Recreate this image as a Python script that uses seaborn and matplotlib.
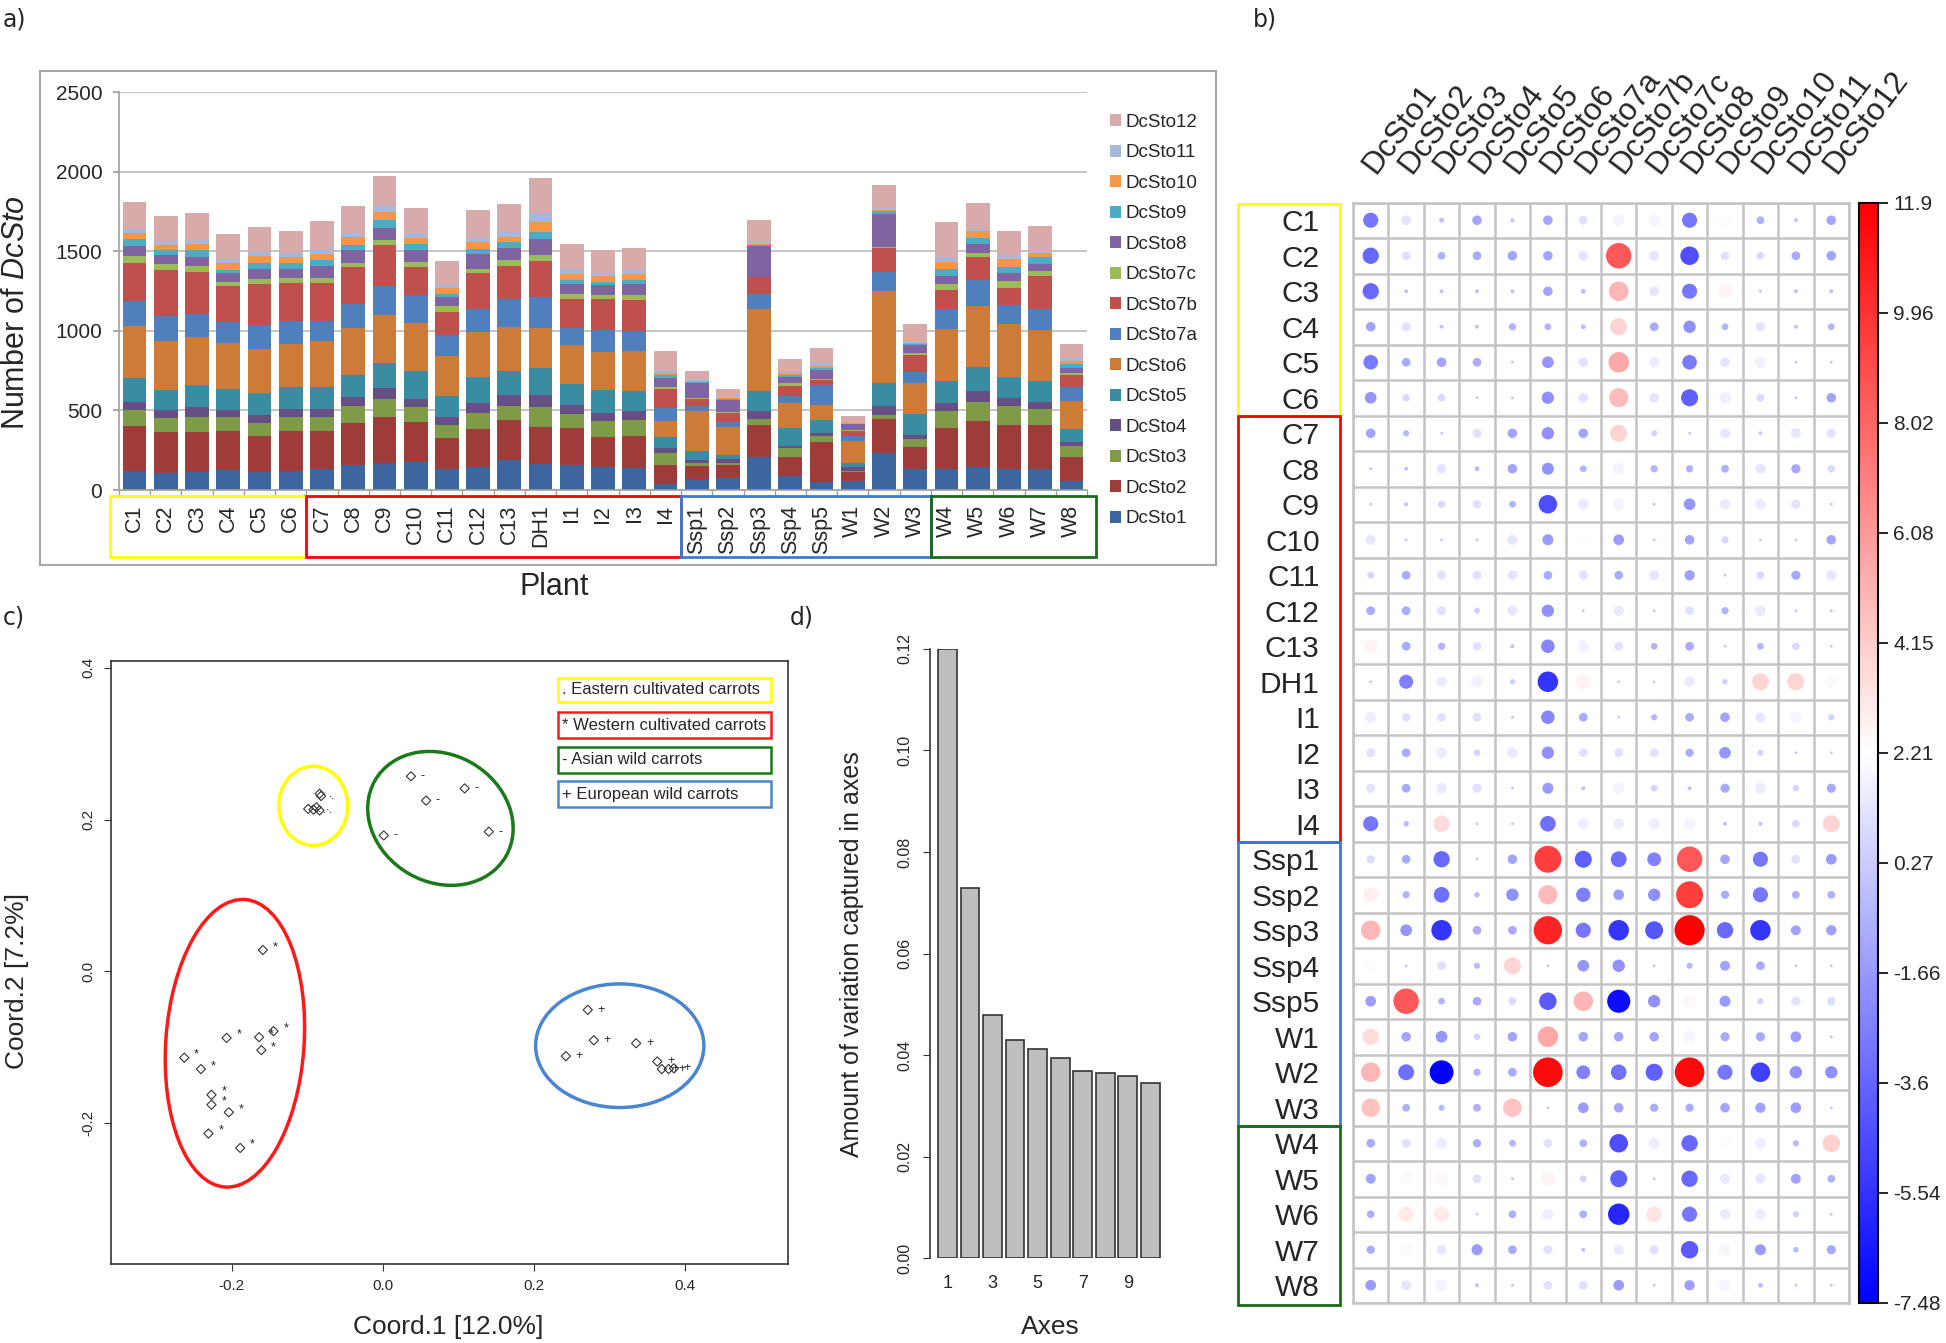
import numpy as np
import pandas as pd
import matplotlib
matplotlib.use('Agg')
import matplotlib.pyplot as plt
from matplotlib.patches import Rectangle, Ellipse
from matplotlib.colors import LinearSegmentedColormap, Normalize
import matplotlib.cm as cm
import seaborn as sns

sns.set_theme(style='white')
plt.rcParams['font.family'] = ['Liberation Sans', 'DejaVu Sans']
plt.rcParams['mathtext.fontset'] = 'custom'
plt.rcParams['mathtext.it'] = 'Liberation Sans:italic'
plt.rcParams['mathtext.rm'] = 'Liberation Sans'

# ---------------- data ----------------
plants = ['C1', 'C2', 'C3', 'C4', 'C5', 'C6', 'C7', 'C8', 'C9', 'C10', 'C11', 'C12', 'C13', 'DH1',
          'I1', 'I2', 'I3', 'I4', 'Ssp1', 'Ssp2', 'Ssp3', 'Ssp4', 'Ssp5', 'W1', 'W2', 'W3',
          'W4', 'W5', 'W6', 'W7', 'W8']
genes = ['DcSto1', 'DcSto2', 'DcSto3', 'DcSto4', 'DcSto5', 'DcSto6', 'DcSto7a', 'DcSto7b',
         'DcSto7c', 'DcSto8', 'DcSto9', 'DcSto10', 'DcSto11', 'DcSto12']

# copies per plant (panel a)
dcsto1 = [121, 105, 113, 128, 113, 121, 130, 157, 172, 174, 130, 144, 190, 165, 157, 142, 140, 38,
          67, 77, 209, 88, 52, 59, 234, 130, 130, 142, 130, 130, 59]
dcsto2 = [283, 257, 249, 244, 228, 247, 238, 261, 288, 253, 194, 239, 249, 232, 232, 193, 201, 117,
          86, 80, 199, 121, 251, 52, 212, 138, 259, 293, 278, 276, 150]
dcsto3 = [98, 88, 98, 84, 77, 92, 90, 109, 109, 92, 84, 102, 90, 122, 88, 98, 98, 79,
          14, 15, 36, 53, 36, 8, 23, 52, 105, 119, 119, 104, 65]
dcsto4 = [52, 52, 59, 46, 51, 48, 52, 55, 69, 52, 48, 59, 67, 77, 59, 52, 55, 28,
          21, 20, 52, 16, 17, 23, 58, 25, 50, 67, 52, 44, 25]
dcsto5 = [151, 128, 140, 130, 138, 138, 136, 138, 159, 174, 134, 167, 149, 170, 131, 145, 127, 69,
          57, 30, 127, 113, 83, 25, 142, 132, 138, 151, 128, 130, 82]
dcsto6 = [326, 305, 301, 293, 280, 274, 287, 295, 303, 303, 253, 283, 278, 249, 243, 238, 251, 102,
          251, 171, 517, 153, 94, 143, 582, 195, 328, 385, 335, 318, 180]
dcsto7a = [159, 157, 145, 131, 149, 141, 128, 154, 182, 174, 128, 146, 176, 200, 109, 140, 126, 84,
           33, 32, 90, 46, 126, 29, 119, 69, 128, 161, 123, 138, 85]
dcsto7b = [237, 293, 263, 226, 257, 238, 238, 233, 256, 180, 148, 220, 211, 224, 180, 189, 197, 115,
           42, 56, 105, 65, 31, 31, 153, 104, 121, 144, 101, 205, 78]
dcsto7c = [42, 35, 38, 26, 31, 32, 32, 27, 35, 31, 36, 31, 33, 34, 31, 27, 27, 12,
           4, 6, 6, 14, 7, 7, 6, 13, 38, 28, 44, 32, 12]
dcsto8 = [62, 55, 58, 54, 63, 56, 79, 81, 75, 77, 56, 90, 80, 106, 65, 65, 69, 59,
          94, 78, 190, 42, 56, 35, 207, 50, 46, 54, 54, 41, 32]
dcsto9 = [46, 31, 44, 23, 36, 36, 33, 28, 49, 34, 21, 32, 33, 42, 23, 18, 27, 17,
          11, 6, 11, 11, 11, 4, 17, 10, 44, 42, 38, 44, 25]
dcsto10 = [36, 36, 40, 42, 48, 39, 40, 50, 52, 38, 34, 43, 32, 61, 36, 36, 36, 18,
           6, 4, 6, 10, 16, 4, 6, 5, 48, 42, 46, 25, 19]
dcsto11 = [25, 25, 23, 25, 23, 28, 32, 23, 38, 29, 21, 30, 31, 59, 37, 23, 27, 13,
           4, 7, 11, 11, 15, 3, 13, 8, 23, 14, 27, 17, 19]
dcsto12 = [169, 153, 170, 153, 161, 140, 173, 174, 188, 159, 152, 173, 178, 219, 155, 144, 140, 123,
           57, 50, 140, 81, 94, 41, 146, 109, 224, 161, 155, 155, 85]
counts = [dcsto1, dcsto2, dcsto3, dcsto4, dcsto5, dcsto6, dcsto7a, dcsto7b, dcsto7c,
          dcsto8, dcsto9, dcsto10, dcsto11, dcsto12]

gene_colors = ['#3D669E', '#9E3C3A', '#7E9B47', '#654F85', '#3A8CA2', '#CD7B36', '#4F7FBD',
               '#C0504D', '#9BBB59', '#8064A2', '#4BACC6', '#F79646', '#A7B8DA', '#D9AAAA']

# residuals (panel b), rows = plants, cols = genes
residuals = [
    [-3.0, 1.2, -0.3, -1.2, -0.2, -1.2, 1.0, 1.8, 1.8, -3.0, 2.3, -0.8, -0.2, -1.2],
    [-3.5, 1.0, -0.8, -1.0, -1.2, -1.2, 1.2, 8.5, 1.3, -4.5, 1.0, 0.8, -1.0, -1.2],
    [-3.5, -0.2, -0.2, -0.2, -0.2, -1.2, -0.3, 5.0, 1.2, -3.0, 2.6, -0.1, -0.2, -0.2],
    [-1.2, 1.1, -0.2, -0.2, -0.7, -0.6, -0.3, 3.8, -1.0, -2.0, -0.6, 1.2, -0.2, -0.6],
    [-2.8, -1.0, -1.2, -1.0, -0.1, -1.8, 1.1, 5.5, 1.5, -2.8, 1.2, 1.7, -0.1, -0.1],
    [-1.8, 0.7, 0.8, -0.1, -0.1, -2.0, 1.2, 4.8, 1.2, -3.8, 1.6, 0.8, -0.1, -1.2],
    [-1.2, -0.5, -0.1, 1.0, -1.2, -2.0, -1.2, 3.8, 0.5, -0.1, 1.3, 0.2, 1.3, 1.1],
    [-0.1, -0.2, 1.2, -0.3, -1.2, -1.9, -0.6, 1.8, -0.7, -0.7, -0.8, 1.3, -1.1, 0.8],
    [-0.1, -0.2, 0.7, 1.0, -0.6, -4.5, 1.4, 1.8, -0.1, -1.8, 1.4, 1.5, 1.1, -0.1],
    [1.3, -0.1, -0.1, -0.1, 1.3, -1.6, 2.3, -1.5, -0.1, -1.2, 0.7, 0.1, 0.1, -1.2],
    [0.6, -1.0, 1.0, 1.0, 1.2, -1.0, 1.1, -1.0, 1.3, -1.4, -0.1, 0.8, -1.1, 1.3],
    [-1.0, -1.0, 1.1, 0.5, 1.3, -2.0, -0.1, 1.4, -0.1, 1.0, -0.7, 1.5, -0.1, -0.1],
    [2.6, -1.0, -0.7, 1.0, -0.2, -2.4, 1.7, 1.0, -0.6, -1.0, -0.1, -0.6, 0.8, 0.1],
    [-0.1, -2.6, 1.4, 1.7, 0.4, -5.5, 2.7, 0.1, 0.1, 1.4, 0.4, 3.8, 3.8, 2.0],
    [1.6, 1.0, 1.0, 1.0, -0.1, -2.4, -1.0, -0.1, -0.5, -1.0, -1.2, 1.3, 1.9, 0.5],
    [1.1, -1.0, 1.5, 0.6, 1.4, -2.0, 1.0, 1.0, 1.0, -0.9, -1.8, 0.5, 0.1, 0.1],
    [1.1, -1.0, 1.4, 1.1, -0.1, -1.6, -0.2, 1.8, 0.6, -0.2, -1.1, 1.5, 0.6, -1.1],
    [-3.0, -0.4, 3.5, -0.1, -0.1, -3.2, 1.6, 1.5, 1.6, 1.8, -0.2, -0.2, 0.8, 3.8],
    [0.9, -1.0, -3.5, -0.1, -1.2, 9.5, -3.8, -3.3, -2.5, 8.5, -1.2, -3.0, 1.0, -1.5],
    [2.8, -0.7, -3.2, -0.4, -2.0, 4.8, -2.7, -1.5, -2.0, 9.5, -0.9, -3.0, -0.8, -0.8],
    [5.0, -1.8, -5.5, -1.0, -1.0, 10.5, -3.0, -5.5, -4.2, 11.9, -3.5, -5.5, -1.3, -1.4],
    [2.3, -0.1, 1.0, -0.5, 3.8, -0.1, -1.8, -2.0, -0.1, -0.5, -1.3, -1.0, -0.1, -0.1],
    [-1.5, 8.5, -0.6, -1.0, 0.8, -4.0, 5.0, -7.0, -2.0, 2.5, -1.6, 0.5, 1.2, 0.9],
    [3.5, -1.2, -1.8, 0.6, -1.2, 5.5, -1.2, -1.2, -1.2, 1.9, -1.1, -1.1, -1.5, -0.1],
    [5.0, -3.3, -7.48, -0.7, -1.0, 11.5, -2.5, -3.2, -3.8, 11.5, -3.0, -5.0, -2.0, -2.0],
    [4.5, -0.8, -0.5, -0.8, 4.5, -0.1, -1.5, -1.2, -0.9, -0.9, -1.2, -1.4, -1.5, 0.1],
    [-1.0, 1.0, 1.5, -0.9, -0.6, 1.0, -0.8, -4.5, 1.6, -3.5, 2.3, 1.6, -0.5, 4.0],
    [-1.3, 2.0, 2.5, 1.0, -0.1, 2.6, 0.6, -3.8, -0.1, -3.5, 1.4, 1.3, -1.3, -0.8],
    [-0.8, 3.0, 3.0, -0.1, -0.8, 1.6, -0.8, -6.0, 3.2, -3.0, 1.4, 1.6, 0.5, -0.1],
    [-0.9, 2.1, 1.3, -1.6, -1.0, 1.1, -0.2, 1.4, 1.1, -4.0, 1.9, -1.6, -0.4, -1.1],
    [-1.5, 1.3, 1.8, -0.2, -0.1, 1.0, 1.0, -1.5, -0.1, -1.4, 1.9, -0.3, -0.1, -0.1],
]
cbar_ticks = [11.9, 9.96, 8.02, 6.08, 4.15, 2.21, 0.27, -1.66, -3.6, -5.54, -7.48]
res_lo, res_hi = -7.48, 11.9

# groups: (name, first index, last index + 1, colour)
groups = [('east', 0, 6, '#FFFF00'), ('west', 6, 18, '#FF0000'),
          ('euro', 18, 26, '#3C7AD6'), ('asia', 26, 31, '#1B6B1B')]

# PCoA (panel c)
eastern_x = [-0.084, -0.082, -0.099, -0.092, -0.088, -0.084]
eastern_y = [0.234, 0.231, 0.214, 0.213, 0.216, 0.212]
western_x = [-0.159, -0.207, -0.164, -0.145, -0.161, -0.263, -0.241, -0.227, -0.227, -0.204, -0.231, -0.189]
western_y = [0.028, -0.088, -0.087, -0.079, -0.104, -0.114, -0.129, -0.163, -0.176, -0.186, -0.214, -0.233]
asian_x = [0.037, 0.108, 0.057, 0.001, 0.140]
asian_y = [0.257, 0.241, 0.225, 0.179, 0.184]
european_x = [0.271, 0.279, 0.335, 0.242, 0.363, 0.369, 0.378, 0.385]
european_y = [-0.051, -0.091, -0.095, -0.112, -0.119, -0.129, -0.129, -0.128]
legend_c = ['. Eastern cultivated carrots', '* Western cultivated carrots',
            '- Asian wild carrots', '+ European wild carrots']

# variation per axis (panel d)
axis_no = ['1', '2', '3', '4', '5', '6', '7', '8', '9', '10']
variation = [0.1200, 0.0730, 0.0478, 0.0430, 0.0412, 0.0395, 0.0368, 0.0365, 0.0358, 0.0345]

# ---------------- figure ----------------
W, H = 1946, 1343
fig = plt.figure(figsize=(W / 100, H / 100), dpi=100)


def box(x0, y0, x1, y1):
    # pixel box -> figure fraction
    return [x0 / W, 1 - y1 / H, (x1 - x0) / W, (y1 - y0) / H]


# ===== a) stacked bars =====
ax_a = fig.add_axes(box(119, 92, 1087, 490))
fig.add_artist(Rectangle((40 / W, 1 - 565 / H), 1176 / W, 494 / H, transform=fig.transFigure,
                         fill=False, ec='#A6A6A6', lw=1.5))
df_a = pd.DataFrame([(p, g, counts[j][i]) for i, p in enumerate(plants) for j, g in enumerate(genes)],
                    columns=['plant', 'gene', 'count'])
sns.histplot(data=df_a, x='plant', weights='count', hue='gene', hue_order=genes[::-1],
             multiple='stack', discrete=True, shrink=0.76, palette=dict(zip(genes, gene_colors)),
             alpha=1, linewidth=0, ax=ax_a)
ax_a.set_xlim(-0.5, 30.5)
ax_a.set_ylim(0, 2500)
ax_a.set_yticks(range(0, 2501, 500))
ax_a.yaxis.grid(True, color='#BFBFBF', lw=1.3)
ax_a.set_axisbelow(True)
ax_a.set_xticks(range(len(plants)))
ax_a.set_xticklabels(plants, rotation=90, fontsize=15.5)
ax_a.set_xticks(np.arange(-0.5, 31), minor=True)
ax_a.tick_params(axis='x', which='major', length=0, pad=10.5)
ax_a.tick_params(axis='x', which='minor', bottom=True, length=4, color='#A0A0A0', width=1)
ax_a.tick_params(axis='y', left=True, length=4, color='#A0A0A0', labelsize=15, pad=8)
for s in ['top', 'right']:
    ax_a.spines[s].set_visible(False)
for s in ['left', 'bottom']:
    ax_a.spines[s].set_color('#A0A0A0')
    ax_a.spines[s].set_linewidth(1.2)
ax_a.set_xlabel('Plant', fontsize=22)
ax_a.xaxis.set_label_coords(0.45, -0.244)
ax_a.xaxis.label.set_va('center')
ax_a.set_ylabel(r'Number of $\mathit{DcSto}$', fontsize=22)
ax_a.yaxis.set_label_coords(-0.106, 0.447)
ax_a.yaxis.label.set_va('center')
box_edges = [-0.79, 5.5, 17.5, 25.5, 30.78]
for k, (_, i0, i1, col) in enumerate(groups):
    ax_a.add_patch(Rectangle((box_edges[k], -0.168), box_edges[k + 1] - box_edges[k], 0.153,
                             transform=ax_a.get_xaxis_transform(), fill=False, ec=col, lw=2,
                             clip_on=False))
sns.move_legend(ax_a, 'upper left', bbox_to_anchor=(1093 / W, 1 - 97 / H),
                bbox_transform=fig.transFigure, title=None, frameon=False, fontsize=13.5,
                handlelength=0.6, handleheight=0.6, labelspacing=0.72, handletextpad=0.25)

# ===== b) residual dot matrix =====
ax_b = fig.add_axes(box(1353, 202.5, 1849, 1303))
res = np.array(residuals)
df_b = pd.DataFrame({'row': np.repeat(np.arange(len(plants)), len(genes)),
                     'col': np.tile(np.arange(len(genes)), len(plants)),
                     'value': res.ravel()})
df_b['mag'] = df_b['value'].abs()
resid_cmap = LinearSegmentedColormap.from_list('bwr_r', ['#0000FF', '#FFFFFF', '#FF0000'])
sns.scatterplot(data=df_b, x='col', y='row', hue='value', size='mag', palette=resid_cmap,
                hue_norm=(res_lo, res_hi), sizes=(0, 470), size_norm=(0, res_hi),
                legend=False, linewidth=0, marker='o', ax=ax_b)
ax_b.set_xlim(-0.5, len(genes) - 0.5)
ax_b.set_ylim(len(plants) - 0.5, -0.5)
ax_b.set_xticks(np.arange(-0.5, len(genes)), minor=True)
ax_b.set_yticks(np.arange(-0.5, len(plants)), minor=True)
ax_b.grid(which='minor', color='#C4C4C4', lw=1.8)
ax_b.grid(which='major', visible=False)
ax_b.set_axisbelow(True)
# label anchors sit a little right of each column centre, as in the original
ax_b.set_xticks(np.arange(len(genes)) + 0.3)
ax_b.set_yticks(range(len(plants)))
ax_b.set_yticklabels(plants, fontsize=21.5)
ax_b.xaxis.tick_top()
ax_b.set_xticklabels(genes, fontsize=22.5, rotation=53, ha='left', va='bottom',
                     rotation_mode='anchor')
ax_b.tick_params(which='both', length=0)
ax_b.tick_params(axis='x', pad=17)
ax_b.tick_params(axis='y', pad=24)
ax_b.set_xlabel('')
ax_b.set_ylabel('')
for s in ax_b.spines.values():
    s.set_color('#C4C4C4')
    s.set_linewidth(1.8)
row_bounds = [(-0.45, 5.5), (5.5, 17.5), (17.5, 25.5), (25.5, 30.55)]
bt = matplotlib.transforms.blended_transform_factory(ax_b.transAxes, ax_b.transData)
for (y0, y1), (_, i0, i1, col) in zip(row_bounds, groups):
    ax_b.add_patch(Rectangle((-0.232, y0), 0.206, y1 - y0, transform=bt, fill=False, ec=col,
                             lw=2, clip_on=False))

cax = fig.add_axes(box(1859, 202.5, 1878, 1303))
sm = cm.ScalarMappable(norm=Normalize(res_lo, res_hi), cmap=resid_cmap)
cb = fig.colorbar(sm, cax=cax)
cb.set_ticks(cbar_ticks)
cb.set_ticklabels([f'{t:g}' for t in cbar_ticks])
cb.outline.set_linewidth(1.5)
cb.outline.set_edgecolor('black')
cax.tick_params(right=True, length=7, width=1.2, labelsize=15, color='black', pad=4)

# ===== c) PCoA =====
ax_c = fig.add_axes(box(111, 661, 788, 1264))
df_c = pd.DataFrame({
    'x': eastern_x + western_x + asian_x + european_x,
    'y': eastern_y + western_y + asian_y + european_y,
    'sym': ['.'] * len(eastern_x) + ['*'] * len(western_x) + ['-'] * len(asian_x) + ['+'] * len(european_x),
})
sns.scatterplot(data=df_c, x='x', y='y', marker='D', s=22, color='#333333', facecolors='none',
                edgecolor='#333333', linewidth=0.8, ax=ax_c)
for _, r in df_c.iterrows():
    ax_c.text(r['x'] + 0.013, r['y'] + (0.004 if r['sym'] == '*' else 0.0), r['sym'],
              fontsize=9, ha='left', va='center', color='#222222')
ell = [((-0.0923, 0.218), 0.0913, 0.1045, 0, '#FFFF00'),
       ((-0.196, -0.095), 0.183, 0.380, -4, '#FF1A1A'),
       ((0.076, 0.2015), 0.200, 0.168, -30, '#1A7A1A'),
       ((0.3133, -0.0982), 0.2227, 0.163, 0, '#4A86D0')]
for c, w_, h_, a_, col in ell:
    ax_c.add_patch(Ellipse(c, w_, h_, angle=a_, fill=False, ec=col, lw=2.5))
leg_cols = ['#FFFF00', '#FF1A1A', '#1A7A1A', '#4A86D0']
leg_y = [(0.355, 0.387), (0.307, 0.342), (0.261, 0.296), (0.216, 0.251)]
for txt, col, (y0, y1) in zip(legend_c, leg_cols, leg_y):
    ax_c.add_patch(Rectangle((0.232, y0), 0.282, y1 - y0, fill=False, ec=col, lw=1.8))
    ax_c.text(0.237, (y0 + y1) / 2, txt, fontsize=12, ha='left', va='center')
ax_c.set_xlim(-0.36, 0.536)
ax_c.set_ylim(-0.386, 0.409)
ax_c.set_xticks([-0.2, 0.0, 0.2, 0.4])
ax_c.set_xticklabels(['-0.2', '0.0', '0.2', '0.4'])
ax_c.set_yticks([-0.2, 0.0, 0.2, 0.4])
ax_c.set_yticklabels(['-0.2', '0.0', '0.2', '0.4'], rotation=90, va='center')
ax_c.tick_params(bottom=True, left=True, length=5, width=0.8, labelsize=11, color='#333333', pad=6)
for s in ax_c.spines.values():
    s.set_color('#333333')
    s.set_linewidth(1.2)
ax_c.set_xlabel('Coord.1 [12.0%]', fontsize=19)
ax_c.xaxis.set_label_coords(0.498, -0.104)
ax_c.xaxis.label.set_va('center')
ax_c.set_ylabel('Coord.2 [7.2%]', fontsize=19)
ax_c.yaxis.set_label_coords(-0.139, 0.47)
ax_c.yaxis.label.set_va('center')

# ===== d) variation per axis =====
ax_d = fig.add_axes(box(930, 649, 1164, 1258))
sns.barplot(x=axis_no, y=variation, color='#BEBEBE', saturation=1, edgecolor='#333333',
            linewidth=1.2, width=0.833, ax=ax_d)
ax_d.set_xlim(-0.77, 9.6)
ax_d.set_ylim(0, 0.12)
ax_d.set_xticks([0, 2, 4, 6, 8])
ax_d.set_xticklabels(['1', '3', '5', '7', '9'])
ax_d.set_yticks(np.arange(0, 0.121, 0.02))
ax_d.set_yticklabels([f'{v:.2f}' for v in np.arange(0, 0.121, 0.02)], rotation=90, va='center')
ax_d.tick_params(axis='x', length=0, labelsize=13, pad=12)
ax_d.tick_params(axis='y', left=True, length=5, width=0.8, labelsize=11.5, color='#333333', pad=8)
for s in ['top', 'right', 'bottom']:
    ax_d.spines[s].set_visible(False)
ax_d.spines['left'].set_bounds(0, 0.12)
ax_d.spines['left'].set_color('#333333')
ax_d.spines['left'].set_linewidth(1.2)
ax_d.set_xlabel('Axes', fontsize=19)
ax_d.xaxis.set_label_coords(0.513, -0.113)
ax_d.xaxis.label.set_va('center')
ax_d.set_ylabel('Amount of variation captured in axes', fontsize=18)
ax_d.yaxis.set_label_coords(-0.333, 0.499)
ax_d.yaxis.label.set_va('center')

# panel letters
for lab, (px, py) in {'a)': (3, 19), 'b)': (1253, 19), 'c)': (3, 618), 'd)': (790, 618)}.items():
    fig.text(px / W, 1 - py / H, lab, fontsize=17, family='DejaVu Sans', ha='left', va='center')

fig.savefig('out.png', dpi=100)
